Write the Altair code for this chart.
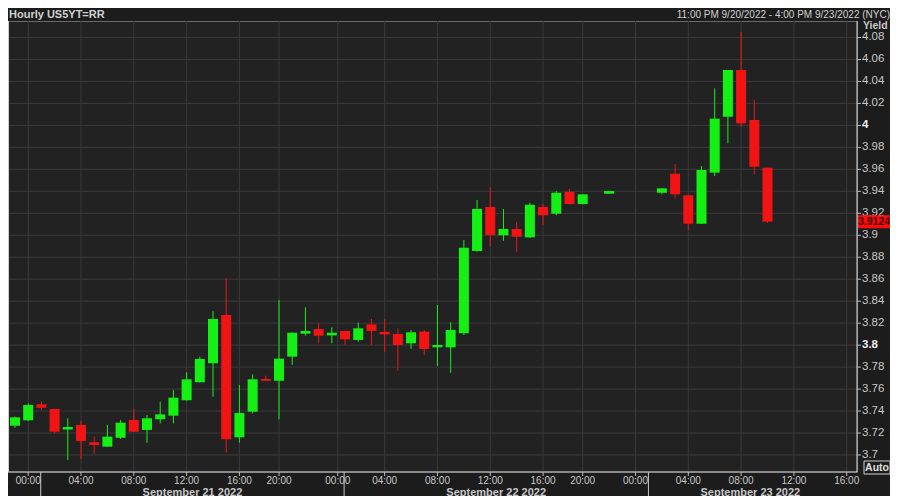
import altair as alt
import pandas as pd

# ---- data ----
idx = [0, 1, 2, 3, 4, 5, 6, 7, 8, 9, 10, 11, 12, 13, 14, 15, 16, 17, 18, 19,
       20, 21, 22, 23, 24, 25, 26, 27, 28, 29, 30, 31, 32, 33, 34, 35, 36, 37, 38, 39,
       40, 41, 42, 43, 45, 49, 50, 51, 52, 53, 54, 55, 56, 57]
opn = [3.7267, 3.7316, 3.7461, 3.7419, 3.7231, 3.7273, 3.7116, 3.7076, 3.7157, 3.7319,
       3.7228, 3.7325, 3.7358, 3.7498, 3.7662, 3.7835, 3.8274, 3.7161, 3.7394, 3.7692,
       3.7676, 3.7895, 3.8104, 3.8147, 3.8089, 3.8129, 3.8047, 3.8189, 3.8120, 3.8101,
       3.8017, 3.8123, 3.7980, 3.7980, 3.8108, 3.8857, 3.9257, 3.9000, 3.9057, 3.8981,
       3.9257, 3.9196, 3.9396, 3.9284, 3.9378, 3.9387, 3.9560, 3.9364, 3.9105, 3.9570,
       4.0079, 4.0504, 4.0049, 3.9615]
hi = [3.7350, 3.7470, 3.7485, 3.7422, 3.7334, 3.7312, 3.7167, 3.7273, 3.7319, 3.7419,
      3.7364, 3.7485, 3.7592, 3.7753, 3.7895, 3.8311, 3.8608, 3.7637, 3.7734, 3.7722,
      3.8411, 3.8115, 3.8344, 3.8204, 3.8162, 3.8131, 3.8204, 3.8238, 3.8235, 3.8153,
      3.8138, 3.8138, 3.8365, 3.8208, 3.8957, 3.9321, 3.9437, 3.9239, 3.9123, 3.9296,
      3.9282, 3.9403, 3.9421, 3.9374, 3.9403, 3.9427, 3.9649, 3.9366, 3.9630, 4.0337,
      4.0504, 4.0853, 4.0231, 3.9615]
lo = [3.7248, 3.7310, 3.7410, 3.7197, 3.6954, 3.6964, 3.7006, 3.7073, 3.7146, 3.7210,
      3.7112, 3.7288, 3.7288, 3.7495, 3.7660, 3.7531, 3.7021, 3.7112, 3.7380, 3.7674,
      3.7325, 3.7819, 3.8086, 3.8017, 3.8017, 3.8001, 3.8031, 3.8001, 3.7940, 3.7767,
      3.7965, 3.7910, 3.7810, 3.7749, 3.8092, 3.8850, 3.8896, 3.8950, 3.8845, 3.8975,
      3.9093, 3.9182, 3.9282, 3.9282, 3.9378, 3.9373, 3.9336, 3.9048, 3.9105, 3.9539,
      3.9837, 3.9988, 3.9555, 3.9112]
cls = [3.7343, 3.7455, 3.7430, 3.7212, 3.7255, 3.7127, 3.7091, 3.7167, 3.7294, 3.7212,
       3.7334, 3.7370, 3.7522, 3.7689, 3.7874, 3.8238, 3.7143, 3.7382, 3.7689, 3.7676,
       3.7877, 3.8113, 3.8129, 3.8086, 3.8113, 3.8053, 3.8153, 3.8129, 3.8098, 3.8001,
       3.8117, 3.7965, 3.8001, 3.8138, 3.8887, 3.9239, 3.9002, 3.9057, 3.8987, 3.9278,
       3.9182, 3.9387, 3.9284, 3.9372, 3.9403, 3.9427, 3.9373, 3.9105, 3.9594, 4.0061,
       4.0504, 4.0019, 3.9624, 3.9124]

tick_pos = [1, 5, 9, 13, 17, 20, 24.45, 28, 32, 36, 40, 43, 47, 51, 55, 59, 63]
tick_lab = ["00:00", "04:00", "08:00", "12:00", "16:00", "20:00", "00:00", "04:00",
            "08:00", "12:00", "16:00", "20:00", "00:00", "04:00", "08:00", "12:00", "16:00"]
day_sep = [1.95, 24.93, 47.98]
day_pos = [13.44, 36.45, 55.7]
day_lab = ["September 21 2022", "September 22 2022", "September 23 2022"]
y_ticks = [3.70, 3.72, 3.74, 3.76, 3.78, 3.80, 3.82, 3.84, 3.86, 3.88, 3.90,
           3.92, 3.94, 3.96, 3.98, 4.00, 4.02, 4.04, 4.06, 4.08]
y_labels = ["3.7", "3.72", "3.74", "3.76", "3.78", "3.8", "3.82", "3.84", "3.86", "3.88", "3.9",
            "3.92", "3.94", "3.96", "3.98", "4", "4.02", "4.04", "4.06", "4.08"]
y_major = ["3.8", "4"]
last_price = 3.9124
title_left = "Hourly US5YT=RR"
title_right = "11:00 PM 9/20/2022 - 4:00 PM 9/23/2022 (NYC)"

# ---- layout ----
W, H = 849, 451
FONT = "Liberation Sans"
GREEN, RED = "#14f014", "#f21414"
TXT = "#c8c8c8"

df = pd.DataFrame({"i": idx, "open": opn, "high": hi, "low": lo, "close": cls})
df["dir"] = ["up" if c >= o else "down" for o, c in zip(opn, cls)]
ticks = pd.DataFrame({"x": tick_pos, "lab": tick_lab})
seps = pd.DataFrame({"x": day_sep})
days = pd.DataFrame({"x": day_pos, "lab": day_lab})
tag = pd.DataFrame({"p": [last_price], "lab": [f"{last_price:.4f}"]})
ygrid = pd.DataFrame({"v": y_ticks, "lab": y_labels})
ygrid["major"] = [lab in y_major for lab in y_labels]

xs = alt.Scale(domain=[-0.15, 63.4], nice=False, zero=False)
ys = alt.Scale(domain=[3.68453, 4.09501], nice=False, zero=False)
col = alt.Color("dir:N", scale=alt.Scale(domain=["up", "down"], range=[GREEN, RED]), legend=None)

X = lambda f: alt.X(f, scale=xs, axis=None)
Y = lambda f: alt.Y(f, scale=ys, axis=None)

vgrid = alt.Chart(ticks).mark_rule(color="#3a3a3a", strokeWidth=1).encode(x=X("x:Q"))
hgrid = alt.Chart(ygrid).mark_rule(color="#3a3a3a", strokeWidth=1).encode(
    y=Y("v:Q"), x=alt.value(0), x2=alt.value(W))
ytick = alt.Chart(ygrid).mark_rule(color="#bdbdbd", strokeWidth=1).encode(
    y=Y("v:Q"), x=alt.value(W), x2=alt.value(W + 4))
ylab_n = alt.Chart(ygrid).transform_filter("!datum.major").mark_text(
    font=FONT, fontSize=11.5, align="left", baseline="middle", color=TXT).encode(
    y=Y("v:Q"), x=alt.value(W + 5), text="lab:N")
ylab_b = alt.Chart(ygrid).transform_filter("datum.major").mark_text(
    font=FONT, fontSize=11.5, fontWeight="bold", align="left", baseline="middle",
    color="#f0f0f0").encode(
    y=Y("v:Q"), x=alt.value(W + 5), text="lab:N")

wick = alt.Chart(df).mark_rule(strokeWidth=1).encode(
    x=X("i:Q"), y=Y("low:Q"), y2="high:Q", color=col)
body = alt.Chart(df).mark_bar(size=10).encode(
    x=X("i:Q"), y=Y("open:Q"), y2="close:Q", color=col)

bottom_line = alt.Chart(tag).mark_rule(color="#8a8a8a", strokeWidth=2).encode(
    x=alt.value(0), x2=alt.value(W), y=alt.value(H))
left_line = alt.Chart(tag).mark_rule(color="#d0d0d0", strokeWidth=1).encode(
    x=alt.value(0.5), y=alt.value(0), y2=alt.value(H))
right_line = alt.Chart(tag).mark_rule(color="#d8d8d8", strokeWidth=1).encode(
    x=alt.value(W), y=alt.value(0), y2=alt.value(H))

tmarks = alt.Chart(ticks).mark_rule(color="#bdbdbd").encode(
    x=X("x:Q"), y=alt.value(H), y2=alt.value(H + 4))
tlabels = alt.Chart(ticks).mark_text(font=FONT, fontSize=10, color=TXT, baseline="middle").encode(
    x=X("x:Q"), y=alt.value(H + 9), text="lab:N")
sepr = alt.Chart(seps).mark_rule(color="#c8c8c8").encode(
    x=X("x:Q"), y=alt.value(H), y2=alt.value(H + 40))
dlabels = alt.Chart(days).mark_text(font=FONT, fontSize=11, fontWeight="bold", color=TXT,
                                    baseline="alphabetic").encode(
    x=X("x:Q"), y=alt.value(H + 23.5), text="lab:N")

tag_rect = alt.Chart(tag).mark_rect(color="#ff0a0a", yOffset=-6.5, y2Offset=6.5).encode(
    x=alt.value(W + 1), x2=alt.value(W + 40), y=Y("p:Q"), y2="p:Q")
tag_txt = alt.Chart(tag).mark_text(font=FONT, fontSize=10.5, fontWeight="bold", color="#3a0000",
                                   align="left", baseline="middle").encode(
    x=alt.value(W + 1), y=Y("p:Q"), text="lab:N")

yield_t = alt.Chart(tag).mark_text(text="Yield", font=FONT, fontSize=10.5, fontWeight="bold",
                                   color=TXT, align="left", baseline="middle").encode(
    x=alt.value(W + 6), y=alt.value(5))
auto_box = alt.Chart(tag).mark_rect(fill="#1c1c1c", stroke="#d0d0d0", strokeWidth=1).encode(
    x=alt.value(W + 7), x2=alt.value(W + 33), y=alt.value(H - 11), y2=alt.value(H + 2))
auto_t = alt.Chart(tag).mark_text(text="Auto", font=FONT, fontSize=10.5, fontWeight="bold",
                                  color="#e0e0e0", baseline="middle").encode(
    x=alt.value(W + 20), y=alt.value(H - 4.5))

head_l = alt.Chart(tag).mark_text(text=title_left, font=FONT, fontSize=11, fontWeight="bold",
                                  color="#d0d0d0", align="left", baseline="alphabetic").encode(
    x=alt.value(1), y=alt.value(-3))
head_r = alt.Chart(tag).mark_text(text=title_right, font=FONT, fontSize=10, color="#d0d0d0",
                                  align="right", baseline="alphabetic").encode(
    x=alt.value(W + 33), y=alt.value(-3))

chart = alt.layer(hgrid, vgrid, wick, body, bottom_line, left_line, right_line, ytick,
                  ylab_n, ylab_b, tmarks, tlabels, sepr, dlabels, tag_rect, tag_txt, yield_t,
                  auto_box, auto_t, head_l, head_r).properties(
    width=W, height=H,
    autosize=alt.AutoSizeParams(type="none"),
    padding={"left": 0, "top": 13, "right": 33, "bottom": 24},
    background="#1c1c1c",
).configure_view(fill="#222222", stroke="#6a6a6a", strokeWidth=1)

chart.save("out.html", embed_options={"renderer": "svg", "actions": False})
